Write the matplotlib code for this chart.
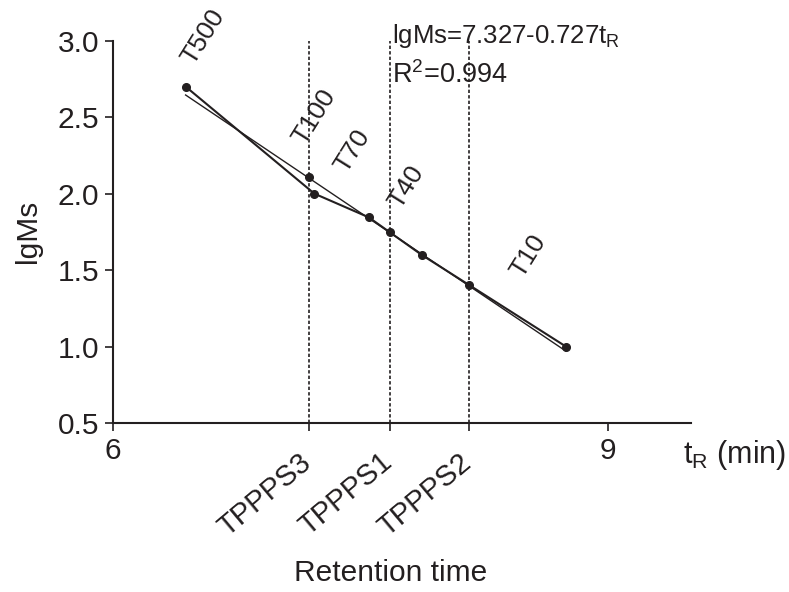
import matplotlib
matplotlib.use('Agg')
import matplotlib.pyplot as plt

plt.rcParams['font.family'] = ['Liberation Sans', 'DejaVu Sans']
plt.rcParams['mathtext.fontset'] = 'custom'
plt.rcParams['mathtext.rm'] = 'Liberation Sans'

# standards (name, retention time, lgMs)
std_names = ['T500', 'T100', 'T70', 'T40', 'T10']
std_t = [6.44, 7.22, 7.55, 7.87, 8.745]
std_lg = [2.70, 2.00, 1.845, 1.60, 1.00]

# samples
sample_names = ['TPPPS3', 'TPPPS1', 'TPPPS2']
sample_t = [7.19, 7.68, 8.16]
sample_lg = [2.11, 1.75, 1.40]

# regression line ends
fit_t = [6.44, 8.745]
fit_lg = [2.645, 0.97]

ink = '#231f20'

fig = plt.figure(figsize=(7.89, 5.92), dpi=100)
ax = fig.add_axes([113/789, 1 - 423/592, (690.5 - 113)/789, (423 - 40.7)/592])

ax.vlines(sample_t, 0.5, 3.0, colors=ink, linestyles=(0, (2, 1.3)), lw=1.2)
ax.plot(fit_t, fit_lg, color=ink, lw=1.0)
ax.plot(std_t, std_lg, color=ink, lw=1.5, marker='o', ms=5.5)
ax.plot(sample_t, sample_lg, 'o', color=ink, ms=5.5)

# label offsets (points) for the standards
offs = [(13, 36), (0, 55), (-11.5, 48), (-11, 49), (-27, 65)]
for name, t, lg, o in zip(std_names, std_t, std_lg, offs):
    ax.annotate(name, (t, lg), xytext=o, textcoords='offset points',
                rotation=58, ha='center', va='center', fontsize=19, color=ink)

for name, t in zip(sample_names, sample_t):
    ax.annotate(name, (t, 0), xycoords=('data', 'axes fraction'), xytext=(-8, -18),
                textcoords='offset points', rotation=40, rotation_mode='anchor',
                ha='right', va='top', fontsize=21, color=ink)

ax.set_xlim(6, 9.5)
ax.set_ylim(0.5, 3.0)
ax.set_xticks([6] + sample_t + [9])
ax.set_xticklabels(['6', '', '', '', '9'])
ax.set_yticks([0.5, 1.0, 1.5, 2.0, 2.5, 3.0])
ax.set_yticklabels(['0.5', '1.0', '1.5', '2.0', '2.5', '3.0'])
ax.tick_params(labelsize=21.5, length=6, width=1.2, colors=ink, pad=4)

for s in ['top', 'right']:
    ax.spines[s].set_visible(False)
for s in ['left', 'bottom']:
    ax.spines[s].set_linewidth(1.5)
    ax.spines[s].set_color(ink)

ax.text(392/789, 1 - 43/592, 'lgMs=7.327-0.727t$\\mathregular{_R}$', transform=fig.transFigure,
        fontsize=18.5, va='baseline', color=ink)
ax.text(392/789, 1 - 83/592, 'R$\\mathregular{^2}$=0.994', transform=fig.transFigure,
        fontsize=19.5, va='baseline', color=ink)

fig.text(683/789, 1 - 455/592, 't$\\mathregular{_R}$ (min)', fontsize=22, va='center', color=ink)
fig.text(391/789, 1 - 573/592, 'Retention time', fontsize=21.5, ha='center', va='center', color=ink)
fig.text(28/789, 1 - 231/592, 'lgMs', fontsize=21.5, rotation=90, ha='center', va='center', color=ink)

fig.savefig('out.png', dpi=100)
